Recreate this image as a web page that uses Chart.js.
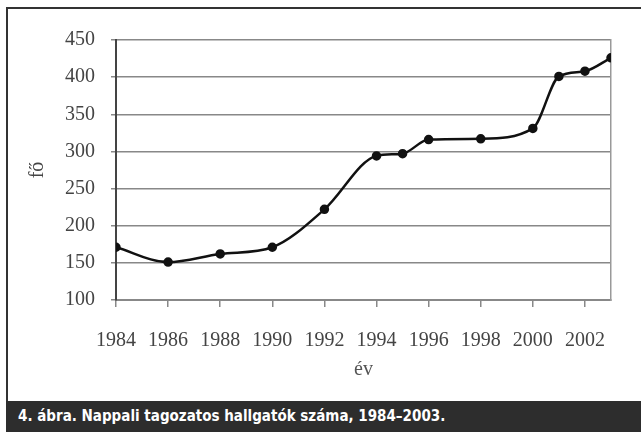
<!DOCTYPE html>
<html>
<head>
<meta charset="utf-8">
<script src="https://cdn.jsdelivr.net/npm/chart.js@4"></script>
<style>
  html, body { margin: 0; padding: 0; background: #fff; }
  #wrap { position: relative; width: 641px; height: 432px; overflow: hidden; }
  #frame { position: absolute; left: 6px; top: 7px; width: 640px; height: 400px;
           border-left: 2px solid #333; border-top: 2px solid #333; box-sizing: border-box; }
  #chart { position: absolute; left: 0; top: 0; }
  #caption { position: absolute; left: 6px; top: 401px; width: 640px; height: 31px;
             background: #2d2d2d; color: #fff; font-family: "DejaVu Sans Condensed", "DejaVu Sans", sans-serif;
             font-weight: bold; font-size: 15px; line-height: 31px; padding-left: 12px; box-sizing: border-box; }
</style>
</head>
<body>
<div id="wrap">
  <div id="frame"></div>
  <canvas id="chart" width="641" height="400"></canvas>
  <div id="caption">4. ábra. Nappali tagozatos hallgatók száma, 1984–2003.</div>
</div>
<script>
// adatok
const years = [1984, 1986, 1988, 1990, 1992, 1994, 1995, 1996, 1998, 2000, 2001, 2002, 2003];
const students = [171, 151, 162, 171, 222, 294, 297, 316, 317, 331, 401, 408, 426];
const yTicks = [100, 150, 200, 250, 300, 350, 400, 450];
const xTitle = 'év';
const yTitle = 'fő';

const serif = 'Liberation Serif';

function createLineChart() {
    const ctx = document.getElementById('chart');
    new Chart(ctx, {
        type: 'line',
        data: {
            datasets: [{
                data: years.map((y, i) => ({ x: y, y: students[i] })),
                borderColor: '#111',
                backgroundColor: '#111',
                borderWidth: 2.5,
                pointRadius: 3.5,
                pointHoverRadius: 3.5,
                cubicInterpolationMode: 'monotone'
            }]
        },
        options: {
            responsive: false,
            animation: false,
            events: [],
            layout: { padding: { left: 0, right: 0, top: 40, bottom: 0 } },
            plugins: { legend: { display: false }, tooltip: { enabled: false } },
            scales: {
                x: {
                    type: 'linear',
                    min: 1984,
                    max: 2003,
                    afterFit: scale => { scale.height = 100; },
                    ticks: {
                        stepSize: 2,
                        includeBounds: false,
                        autoSkip: false,
                        maxRotation: 0,
                        padding: 22,
                        color: '#444',
                        font: { family: serif, size: 20 },
                        callback: v => String(v)
                    },
                    grid: { drawOnChartArea: false, tickLength: 7, color: '#888', lineWidth: 1.5 },
                    border: { color: '#888', width: 2 },
                    title: {
                        display: true,
                        text: xTitle,
                        color: '#555',
                        font: { family: serif, size: 20 },
                        padding: { top: 0, bottom: 18 }
                    }
                },
                y: {
                    min: 100,
                    max: 450,
                    afterFit: scale => { scale.width = 116; },
                    afterBuildTicks: scale => { scale.ticks = yTicks.map(v => ({ value: v })); },
                    ticks: {
                        padding: 16,
                        color: '#444',
                        font: { family: serif, size: 20 }
                    },
                    grid: { color: '#888', lineWidth: 1.5, tickLength: 5 },
                    border: { color: '#444', width: 2 },
                    title: {
                        display: true,
                        text: yTitle,
                        color: '#444',
                        font: { family: serif, size: 20 },
                        padding: { top: 26, bottom: 0 }
                    }
                },
                y2: {
                    position: 'right',
                    min: 100,
                    max: 450,
                    afterFit: scale => { scale.width = 30; },
                    ticks: { display: false },
                    grid: { drawOnChartArea: false, drawTicks: false },
                    border: { color: '#999', width: 1.5 }
                }
            }
        }
    });
}

createLineChart();
</script>
</body>
</html>
